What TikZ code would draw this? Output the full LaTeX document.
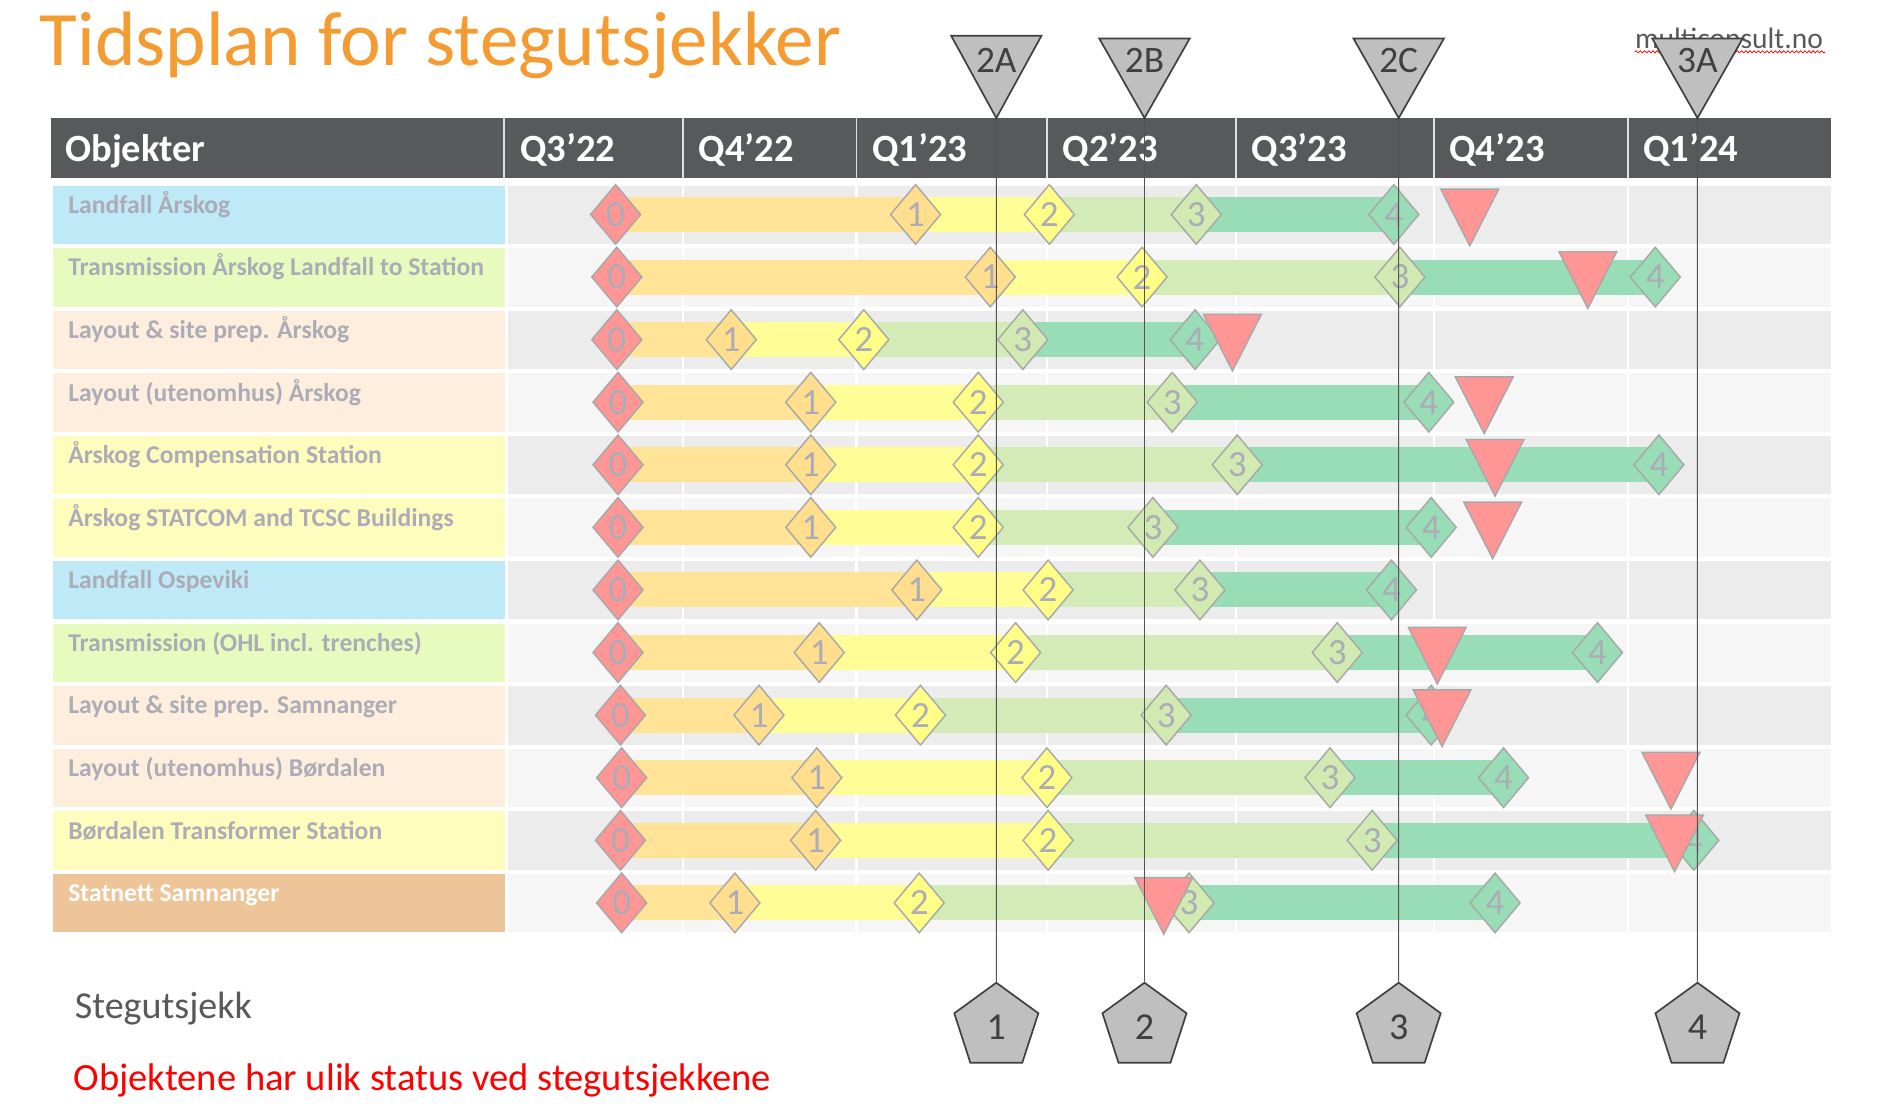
\documentclass[tikz,border=0pt]{standalone}
\usepackage{fontspec}
\setmainfont{Carlito}
\usetikzlibrary{shapes.geometric,decorations.pathmorphing}

\definecolor{titleorange}{RGB}{244,155,50}
\definecolor{hdrgray}{RGB}{88,89,91}
\definecolor{cellblue}{RGB}{190,233,247}
\definecolor{cellgreen}{RGB}{232,251,190}
\definecolor{cellpeach}{RGB}{253,238,222}
\definecolor{cellyellow}{RGB}{255,253,190}
\definecolor{celltan}{RGB}{237,197,153}
\definecolor{stripeA}{RGB}{236,236,236}
\definecolor{stripeB}{RGB}{246,246,246}
\definecolor{lbltxt}{RGB}{172,172,183}
\definecolor{segA}{RGB}{255,227,150}
\definecolor{segB}{RGB}{254,253,150}
\definecolor{segC}{RGB}{211,235,183}
\definecolor{segD}{RGB}{152,221,182}
\definecolor{msA}{RGB}{255,150,150}
\definecolor{msB}{RGB}{255,223,142}
\definecolor{msC}{RGB}{255,255,136}
\definecolor{msD}{RGB}{209,234,178}
\definecolor{msE}{RGB}{152,221,182}
\definecolor{msline}{RGB}{168,168,168}
\definecolor{gatefill}{RGB}{191,191,191}
\definecolor{gateline}{RGB}{64,64,64}
\definecolor{darktxt}{RGB}{89,89,89}

\newcommand\setfs[1]{\fontsize{#1}{#1}\selectfont}

\begin{document}
\begin{tikzpicture}[x=1pt,y=-1pt,
    hdrtext/.style={anchor=base west, inner sep=0, text=white, font=\setfs{32}\bfseries},
    lbltext/.style={anchor=base west, inner sep=0, font=\setfs{21.3}\bfseries},
    ms/.style={diamond, draw=msline, line width=1.2, minimum width=42, minimum height=50, inner sep=0, text=lbltxt, font=\setfs{30.7}},
    redtri/.style={fill=msA, draw=msline, line width=1.2, line join=miter},
    gatebox/.style={fill=gatefill, draw=gateline, line width=1.4, line join=miter},
    gatetext/.style={inner sep=0, text=gateline, font=\setfs{31}},
    pent/.style={regular polygon, regular polygon sides=5, minimum size=73.4, inner sep=0, fill=gatefill, draw=gateline, line width=1.4, text=gateline, font=\setfs{31.6}},
    gateline/.style={draw=gateline!90, line width=0.8}]

    \useasboundingbox (0,0) rectangle (1568,919);
    \fill[white] (0,0) rectangle (1568,919);

    % title
    \node[anchor=base west, inner sep=0, text=titleorange, font=\setfs{64}] (title) at (33,54) {Tidsplan for stegutsjekker};
    \node[anchor=base west, inner sep=0, text=darktxt, font=\setfs{24.5}] (web) at (1357,40) {multiconsult.no};
    \draw[red, line width=0.6, decorate, decoration={snake, amplitude=0.9, segment length=3.5}] (web.base west) ++(0,3) -- ++(158,0);

    % header
    \fill[hdrgray] (42,98) rectangle (1520,148);
    \foreach \x in {418.5,567,711,869,1026,1190,1351}
        \draw[white!75!gray, line width=1.5] (\x,98) -- (\x,148);
    \node[hdrtext] (hobj) at (54,134) {Objekter};
    \foreach \x/\q [count=\k] in {418.5/Q3’22, 567/Q4’22, 711/Q1’23, 869/Q2’23, 1026/Q3’23, 1190/Q4’23, 1351/Q1’24}
        \node[hdrtext] (h\k) at (\x+13,134) {\q};

    % rows
    \foreach \i/\col/\tc/\lab in {1/cellblue/lbltxt/Landfall Årskog,
        2/cellgreen/lbltxt/Transmission Årskog Landfall to Station,
        3/cellpeach/lbltxt/Layout \& site prep. Årskog,
        4/cellpeach/lbltxt/Layout (utenomhus) Årskog,
        5/cellyellow/lbltxt/Årskog Compensation Station,
        6/cellyellow/lbltxt/Årskog STATCOM and TCSC Buildings,
        7/cellblue/lbltxt/Landfall Ospeviki,
        8/cellgreen/lbltxt/Transmission (OHL incl. trenches),
        9/cellpeach/lbltxt/Layout \& site prep. Samnanger,
        10/cellpeach/lbltxt/Layout (utenomhus) Børdalen,
        11/cellyellow/lbltxt/Børdalen Transformer Station,
        12/celltan/white/Statnett Samnanger}{
        \pgfmathsetmacro\rowtop{154+(\i-1)*51.95}
        \ifodd\i\def\stripe{stripeA}\else\def\stripe{stripeB}\fi
        \fill[\col] (44,\rowtop) rectangle (419.5,\rowtop+48.5);
        \fill[\stripe] (421.5,\rowtop) rectangle (1520,\rowtop+48.5);
        \node[lbltext, text=\tc] (l\i) at (56.5,\rowtop+23) {\lab};
    }
    \foreach \x in {567,711,869,1026,1190,1351}
        \draw[white, line width=1.8] (\x,152) -- (\x,778);

    % milestones 0-4 and red markers
    \foreach \i/\a/\b/\c/\d/\e/\t in {1/511/760/871/993/1157/1220,
        2/512/822/948/1162/1374/1318,
        3/512/607/717/849/992/1023,
        4/513/673/812/973/1186/1232,
        5/513/673/812/1027/1377/1241,
        6/513/673/812/957/1188/1239,
        7/513/761/870/996/1155/0,
        8/513/680/843/1110/1326/1193,
        9/515/630/764/968/1188/1197,
        10/516/678/869/1104/1248/1387,
        11/515/677/870/1139/1406/1390,
        12/516/610/763/987/1241/966}{
        \pgfmathsetmacro\cy{154+(\i-1)*51.95+24}
        \fill[segA] (\a,\cy-14.5) rectangle (\b,\cy+14.5);
        \fill[segB] (\b,\cy-14.5) rectangle (\c,\cy+14.5);
        \fill[segC] (\c,\cy-14.5) rectangle (\d,\cy+14.5);
        \fill[segD] (\d,\cy-14.5) rectangle (\e,\cy+14.5);
        \node[ms, fill=msA] (m\i-0) at (\a,\cy) {0};
        \node[ms, fill=msB] (m\i-1) at (\b,\cy) {1};
        \node[ms, fill=msC] (m\i-2) at (\c,\cy) {2};
        \node[ms, fill=msD] (m\i-3) at (\d,\cy) {3};
        \node[ms, fill=msE] (m\i-4) at (\e,\cy) {4};
        \ifnum\t>0
            \draw[redtri] (\t-24,\cy-21) -- (\t+24,\cy-21) -- (\t,\cy+26) -- cycle;
        \fi
    }

    % stage gates
    \foreach \n/\g/\x/\ty in {1/2A/827/29.6, 2/2B/950/32, 3/2C/1161/32, 4/3A/1409/32}{
        \coordinate (tip\n) at (\x,98);
        \node[pent] (p\n) at (\x,852.4) {\n};
        \draw[gateline] (tip\n) -- (p\n.north);
        \draw[gatebox] (tip\n) -- (\x-37.5,\ty) -- (\x+37.5,\ty) -- cycle;
        \node[gatetext] (g\n) at (\x,50) {\g};
    }

    \node[anchor=base west, inner sep=0, text=darktxt, font=\setfs{31.6}] (legend) at (62,845) {Stegutsjekk};
    \node[anchor=base west, inner sep=0, text=red, font=\setfs{32}] (note) at (61,905) {Objektene har ulik status ved stegutsjekkene};

\end{tikzpicture}
\end{document}
